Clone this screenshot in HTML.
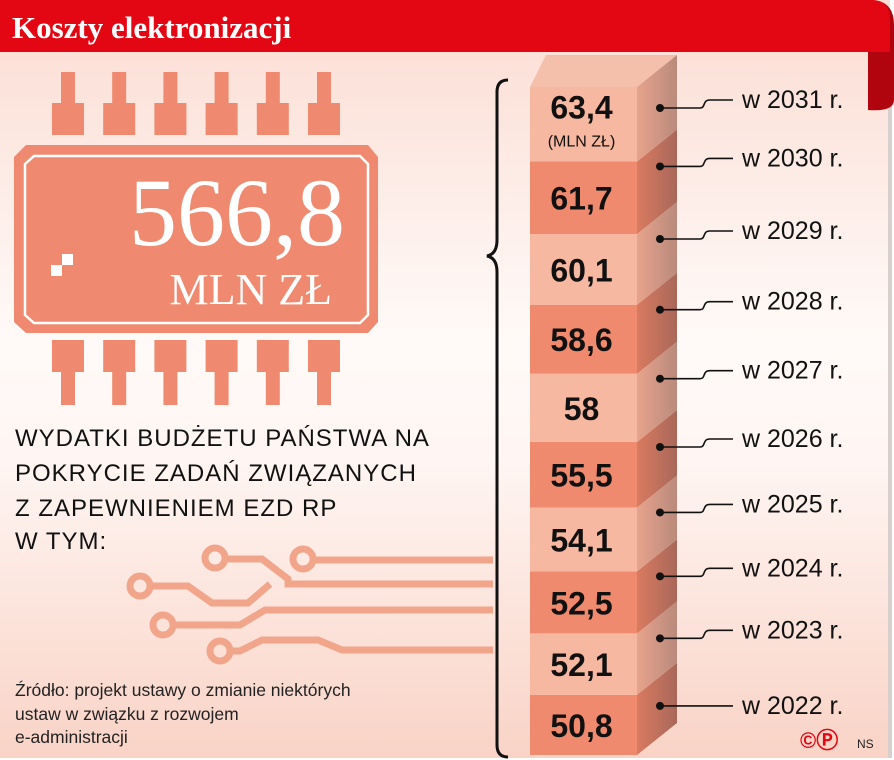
<!DOCTYPE html>
<html><head><meta charset="utf-8"><style>
html,body{margin:0;padding:0;background:#fff}
svg{display:block}
text{font-family:"Liberation Sans","DejaVu Sans",sans-serif}
</style></head><body>
<svg id="chart" width="894" height="760" viewBox="0 0 894 760" xmlns="http://www.w3.org/2000/svg">
<defs>
<linearGradient id="bg" x1="0" y1="0" x2="0" y2="1">
<stop offset="0" stop-color="#fbdcd2"/><stop offset="0.45" stop-color="#fffaf8"/><stop offset="0.6" stop-color="#fff6f3"/><stop offset="1" stop-color="#f9d3c6"/>
</linearGradient>
<linearGradient id="sideL" x1="0" y1="0" x2="1" y2="0"><stop offset="0" stop-color="#e7a38c"/><stop offset="1" stop-color="#b98a7c"/></linearGradient>
<linearGradient id="sideD" x1="0" y1="0" x2="1" y2="0"><stop offset="0" stop-color="#d97a60"/><stop offset="1" stop-color="#a9685a"/></linearGradient>
</defs>
<rect x="0" y="0" width="890" height="758" fill="url(#bg)"/>
<rect x="888" y="60" width="4" height="698" fill="#d8d0cc"/>
<path d="M0 0 H870 Q894 0 894 25 V100 Q894 112 868 110 V52 H0 Z" fill="#b0050f"/>
<path d="M0 0 H872 Q890 0 890 20 V52 H0 Z" fill="#e30613"/>
<text x="12" y="38" style="font-family:'Liberation Serif',serif;font-weight:bold;font-size:31px" fill="#fff">Koszty elektronizacji</text>

<g fill="#ef8a70">
<g id="pins"></g>
<path d="M26 145 H368 L378 157 V322 L368 333 H26 L14 322 V157 Z"/>
<path d="M34 156 H360 L368 164 V315 L360 323 H34 L25 315 V164 Z" fill="none" stroke="#fff" stroke-width="2.5"/>
<rect x="51" y="265" width="11" height="11" fill="#fff"/><rect x="62" y="254" width="11" height="11" fill="#fff"/>
</g>
<text x="345" y="245" text-anchor="end" style="font-family:'Liberation Serif',serif;font-size:96px" fill="#fff">566,8</text>
<text x="332" y="304" text-anchor="end" style="font-family:'Liberation Serif',serif;font-size:44px" fill="#fff">MLN ZŁ</text>

<g font-size="24" fill="#111">
<text x="15" y="446" letter-spacing="1">WYDATKI BUDŻETU PAŃSTWA NA</text>
<text x="15" y="481" letter-spacing="1">POKRYCIE ZADAŃ ZWIĄZANYCH</text>
<text x="15" y="516" letter-spacing="1">Z ZAPEWNIENIEM EZD RP</text>
<text x="15" y="549" letter-spacing="1">W TYM:</text>
</g>

<g fill="none" stroke="#f1a68c" stroke-width="7">
<path d="M222 559 H262 L288 579 V584 H493"/>
<path d="M310 560 H493"/>
<path d="M148 586 H188 L212 603 H248 L270 584"/>
<path d="M170 625 H240 L265 610 H493"/>
<path d="M228 651 H240 L262 640 H318 L342 650 H493"/>
<circle cx="215" cy="558" r="10"/><circle cx="303" cy="559" r="10"/><circle cx="140" cy="586" r="10"/><circle cx="163" cy="625" r="10"/><circle cx="220" cy="651" r="10"/>
</g>

<g font-size="17.5" fill="#222">
<text x="15" y="696">Źródło: projekt ustawy o zmianie niektórych</text>
<text x="15" y="720">ustaw w związku z rozwojem</text>
<text x="15" y="743">e-administracji</text>
</g>

<path d="M508 80 Q497 80 497 92 V240 Q497 254 487 256 Q497 258 497 272 V745 Q497 757 508 757" fill="none" stroke="#111" stroke-width="3"/>

<g id="column"></g>
<text x="800" y="748" font-size="22" fill="#e30613" font-weight="bold">©Ⓟ</text>
<text x="857" y="748" font-size="12" fill="#222">NS</text>
</svg>
<script>
const years = ["2031","2030","2029","2028","2027","2026","2025","2024","2023","2022"];
const values = [63.4,61.7,60.1,58.6,58,55.5,54.1,52.5,52.1,50.8];
const labels = ["63,4","61,7","60,1","58,6","58","55,5","54,1","52,5","52,1","50,8"];

const NS="http://www.w3.org/2000/svg";
function mk(tag,attrs,parent){const e=document.createElementNS(NS,tag);for(const k in attrs)e.setAttribute(k,attrs[k]);parent.appendChild(e);return e;}
const pins=document.getElementById('pins');
for(let i=0;i<6;i++){
  const cx=68+i*51.2;
  const p=mk('path',{d:`M${cx-7} 72 H${cx+7} V103 H${cx+16} V135 H${cx-16} V103 H${cx-7} Z M${cx-16} 340 H${cx+16} V372 H${cx+7} V405 H${cx-7} V372 H${cx-16} Z`},pins);
  
  
}
const col=document.getElementById('column');
const colTop=87,colBottom=755,x0=530,x1=637,dx=40,dy=32;
const w=values.map(v=>v*1.1+2);
const sum=w.reduce((a,b)=>a+b,0);
function hOf(i){return (colBottom-colTop)*w[i]/sum;}
const tf=mk('path',{d:`M${x0} ${colTop} L${x0+16} ${colTop-dy} H${x1+dx} L${x1} ${colTop} Z`,fill:'#f4c0ac'},col);


let yy=colBottom;
const n=values.length;
for(let j=n-1;j>=0;j--){
  const h=hOf(j), yt=yy-h;
  const dark=(j%2===1);
  const seg=mk('rect',{x:x0,y:yt,width:x1-x0,height:h,fill:dark?'#f08a6e':'#f7b8a1'},col);
  
  
  const sd=mk('path',{d:`M${x1} ${yt} L${x1+dx} ${yt-dy} V${yy-dy} L${x1} ${yy} Z`,fill:dark?'url(#sideD)':'url(#sideL)'},col);
  
  
  const ty=j===0?yt+h*0.42:yt+h/2+12;
  const t=mk('text',{x:(x0+x1)/2-2,y:ty,'text-anchor':'middle','font-size':32,'font-weight':'bold',fill:'#111'},col);
  t.textContent=labels[j];
  
  
  if(j===0){
    const u=mk('text',{x:(x0+x1)/2-2,y:yt+h*0.8,'text-anchor':'middle','font-size':16,fill:'#111'},col);
    u.textContent='(MLN ZŁ)';
    
    
  }
  const dyot=j===0?yt+21:(j===n-1?yt+11:yt+5);
  const straight=(j===n-1);
  const ly=straight?dyot:dyot-8;
  const c=mk('circle',{cx:660,cy:dyot,r:4,fill:'#111'},col);
  
  
  const ln=mk('path',{d:straight?`M660 ${dyot} H733`:`M660 ${dyot} H700 C706 ${dyot} 702 ${ly} 710 ${ly} H733`,fill:'none',stroke:'#111','stroke-width':1.6},col);
  
  
  const yl=mk('text',{x:742,y:ly+8,'font-size':25,fill:'#111'},col);
  yl.textContent='w '+years[j]+' r.';
  
  
  yy=yt;
}
</script>
</body></html>
